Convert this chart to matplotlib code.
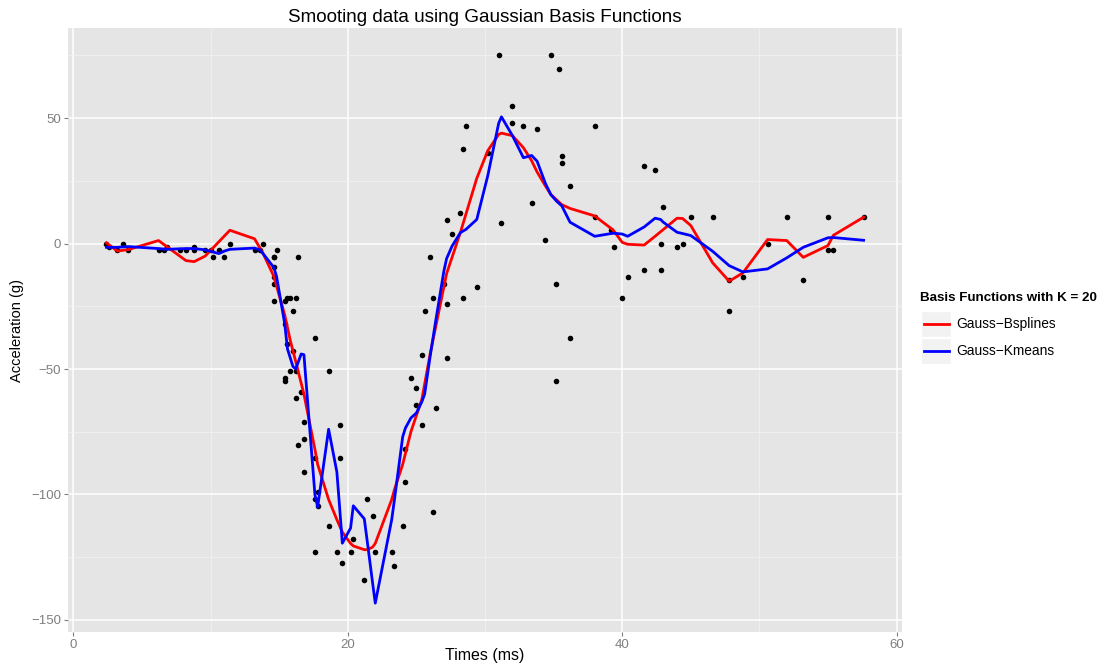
import matplotlib
matplotlib.use("Agg")
import matplotlib.pyplot as plt
from matplotlib.lines import Line2D
from matplotlib.patches import Rectangle

plt.rcParams['font.family'] = ['Liberation Sans', 'DejaVu Sans']

# mcycle data: time (ms) and head acceleration (g)
times = [2.4, 2.6, 3.2, 3.6, 4.0, 6.2, 6.6, 6.8, 7.8, 8.2, 8.8, 8.8, 9.6, 10.0, 10.2,
         10.6, 11.0, 11.4, 13.2, 13.6, 13.8, 14.6, 14.6, 14.6, 14.6, 14.6, 14.6, 14.8,
         15.4, 15.4, 15.4, 15.4, 15.6, 15.6, 15.8, 15.8, 16.0, 16.0, 16.2, 16.2, 16.2,
         16.4, 16.4, 16.6, 16.8, 16.8, 16.8, 17.6, 17.6, 17.6, 17.6, 17.8, 17.8, 18.6,
         18.6, 19.2, 19.4, 19.4, 19.6, 20.2, 20.4, 21.2, 21.4, 21.8, 22.0, 23.2, 23.4,
         24.0, 24.2, 24.2, 24.6, 25.0, 25.0, 25.4, 25.4, 25.6, 26.0, 26.2, 26.2, 26.4,
         27.0, 27.2, 27.2, 27.2, 27.6, 28.2, 28.4, 28.4, 28.6, 29.4, 30.2, 31.0, 31.2,
         32.0, 32.0, 32.8, 33.4, 33.8, 34.4, 34.8, 35.2, 35.2, 35.4, 35.6, 35.6, 36.2,
         36.2, 38.0, 38.0, 39.2, 39.4, 40.0, 40.4, 41.6, 41.6, 42.4, 42.8, 42.8, 43.0,
         44.0, 44.4, 45.0, 46.6, 47.8, 47.8, 48.8, 50.6, 52.0, 53.2, 55.0, 55.0, 55.4,
         57.6]
accel = [0.0, -1.3, -2.7, 0.0, -2.7, -2.7, -2.7, -1.3, -2.7, -2.7, -1.3, -2.7, -2.7,
         -2.7, -5.4, -2.7, -5.4, 0.0, -2.7, -2.7, 0.0, -13.3, -5.4, -5.4, -9.3, -16.0,
         -22.8, -2.7, -22.8, -32.1, -53.5, -54.9, -40.2, -21.5, -21.5, -50.8, -42.9,
         -26.8, -21.5, -50.8, -61.7, -5.4, -80.4, -59.0, -71.0, -91.1, -77.7, -37.5,
         -85.6, -123.1, -101.9, -99.1, -104.4, -112.5, -50.8, -123.1, -85.6, -72.3,
         -127.2, -123.1, -117.9, -134.0, -101.9, -108.4, -123.1, -123.1, -128.5, -112.5,
         -95.1, -81.8, -53.5, -64.4, -57.6, -72.3, -44.3, -26.8, -5.4, -107.1, -21.5,
         -65.6, -16.0, -45.6, -24.2, 9.5, 4.0, 12.0, -21.5, 37.5, 46.9, -17.4, 36.2,
         75.0, 8.1, 54.9, 48.2, 46.9, 16.0, 45.6, 1.3, 75.0, -16.0, -54.9, 69.6, 34.8,
         32.1, -37.5, 22.8, 46.9, 10.7, 5.4, -1.3, -21.5, -13.3, 30.8, -10.7, 29.4, 0.0,
         -10.7, 14.7, -1.3, 0.0, 10.7, 10.7, -26.8, -14.7, -13.3, 0.0, 10.7, -14.7,
         -2.7, 10.7, -2.7, 10.7]

# fitted curves
bspl_t = [2.4, 3.2, 4.0, 6.2, 8.2, 8.8, 9.6, 11.4, 13.2, 13.8, 14.6, 15.4, 15.8, 16.2,
          16.8, 17.6, 17.8, 18.6, 19.2, 19.6, 20.2, 20.4, 21.2, 21.4, 21.8, 22.0, 23.2,
          23.4, 24.0, 24.6, 25.4, 26.0, 27.2, 28.2, 29.4, 30.2, 31.0, 31.2, 32.0, 32.8,
          33.4, 33.8, 34.4, 34.8, 35.2, 35.6, 36.2, 38.0, 39.2, 39.4, 40.0, 40.4, 41.6,
          42.4, 44.0, 44.4, 45.0, 46.6, 47.8, 48.8, 50.6, 52.0, 53.2, 55.0, 55.4, 57.6]
bspl_y = [0.3, -3.0, -2.4, 1.2, -6.8, -7.2, -5.0, 5.3, 1.9, -3.7, -13.0, -28.5, -38.5,
          -47.0, -60.0, -82.0, -88.0, -102.0, -110.0, -115.0, -119.5, -120.5, -122.0,
          -122.0, -121.0, -119.5, -102.0, -98.0, -88.0, -75.0, -62.0, -44.0, -12.0, 4.3,
          26.0, 37.0, 43.5, 44.0, 43.0, 38.2, 33.0, 28.5, 23.0, 19.5, 17.5, 15.5, 14.0,
          11.0, 6.0, 5.0, 0.5, -0.3, -0.6, 2.9, 10.1, 10.0, 7.2, -7.7, -15.0, -11.7, 1.6,
          1.2, -5.5, -0.8, 3.3, 10.5]

kmean_t = [2.4, 3.2, 4.0, 6.2, 6.8, 8.2, 8.8, 9.6, 10.6, 11.0, 11.4, 13.2, 13.6, 14.6,
           14.8, 15.4, 15.6, 16.0, 16.2, 16.4, 16.6, 16.8, 17.6, 17.8, 18.6, 19.2, 19.4,
           19.6, 20.2, 20.4, 21.2, 21.4, 21.8, 22.0, 23.2, 23.4, 24.0, 24.2, 24.6, 25.0,
           25.4, 25.6, 26.0, 26.2, 26.4, 27.0, 27.2, 27.6, 28.2, 28.4, 28.6, 29.4, 30.2,
           31.0, 31.2, 32.0, 32.8, 33.4, 33.8, 34.4, 34.8, 35.2, 35.6, 36.2, 38.0, 39.2,
           39.4, 40.0, 40.4, 41.6, 42.4, 42.8, 43.0, 44.0, 44.4, 45.0, 46.6, 47.8, 48.8,
           50.6, 52.0, 53.2, 55.0, 55.4, 57.6]
kmean_y = [-1.5, -1.5, -1.2, -2.0, -2.3, -2.0, -2.0, -2.5, -4.0, -3.0, -2.3, -1.8, -2.5,
           -9.5, -13.0, -32.0, -42.0, -49.0, -50.0, -47.0, -44.0, -44.3, -100.0, -105.0,
           -74.0, -91.0, -105.0, -119.4, -113.4, -104.5, -109.7, -118.0, -135.0, -143.3,
           -110.0, -102.0, -77.0, -73.5, -69.5, -67.5, -63.0, -60.0, -45.0, -38.0, -31.0,
           -11.0, -6.0, -1.0, 4.3, 5.0, 5.6, 9.6, 27.0, 48.0, 50.5, 43.0, 34.2, 35.1, 32.8,
           24.0, 19.5, 17.0, 15.0, 8.5, 2.9, 4.0, 4.1, 3.8, 2.9, 6.6, 10.1, 9.6, 8.5, 4.5,
           4.0, 3.2, -3.1, -8.8, -11.3, -10.1, -5.7, -1.5, 2.3, 2.4, 1.3]

W, H = 1102, 664
fig = plt.figure(figsize=(W / 100, H / 100), dpi=100)
ax = fig.add_axes([68 / W, 1 - 632 / H, (902 - 68) / W, (632 - 28) / H])
ax.set_facecolor('#E5E5E5')

ax.set_xlim(-0.4, 60.4)
ax.set_ylim(-154.8, 85.9)
ax.set_xticks([0, 20, 40, 60])
ax.set_yticks([-150, -100, -50, 0, 50])
ax.set_xticks([10, 30, 50], minor=True)
ax.set_yticks([-125, -75, -25, 25, 75], minor=True)
ax.grid(True, which='major', color='white', linewidth=1.1)
ax.grid(True, which='minor', color='#F2F2F2', linewidth=0.5)
ax.set_axisbelow(True)
for s in ax.spines.values():
    s.set_visible(False)
ax.tick_params(which='major', length=3, color='#7F7F7F', labelsize=9.5,
               labelcolor='#7F7F7F', pad=2)
ax.tick_params(which='minor', length=0)
ax.set_yticklabels(['\u2212150', '\u2212100', '\u221250', '0', '50'])

ax.scatter(times, accel, s=16, color='black', zorder=3, linewidths=0)
ax.plot(bspl_t, bspl_y, color='#FF0000', linewidth=2.0, zorder=4)
ax.plot(kmean_t, kmean_y, color='#0000FF', linewidth=2.0, zorder=5)

ax.set_xlabel('Times (ms)', fontsize=11.5, labelpad=-2)
ax.set_ylabel('Acceleration (g)', fontsize=10.5, labelpad=5)
ax.set_title('Smooting data using Gaussian Basis Functions', fontsize=13.6, pad=4)

# legend drawn by hand to mimic ggplot keys
def fx(px):
    return px / W

def fy(py):
    return 1 - py / H

fig.text(fx(920), fy(298), 'Basis Functions with K = 20', fontsize=9.6,
         fontweight='bold', va='center', ha='left')
for i, (lab, col) in enumerate([('Gauss\u2212Bsplines', '#FF0000'),
                                ('Gauss\u2212Kmeans', '#0000FF')]):
    yc = 324 + i * 27
    fig.add_artist(Rectangle((fx(921), fy(yc + 13)), 30 / W, 26 / H,
                             transform=fig.transFigure, facecolor='#F2F2F2',
                             edgecolor='white', linewidth=1))
    fig.add_artist(Line2D([fx(924), fx(949)], [fy(yc), fy(yc)],
                          transform=fig.transFigure, color=col, linewidth=2.0))
    fig.text(fx(956), fy(yc), lab, fontsize=9.9, va='center', ha='left')

fig.savefig('out.png', dpi=100)
